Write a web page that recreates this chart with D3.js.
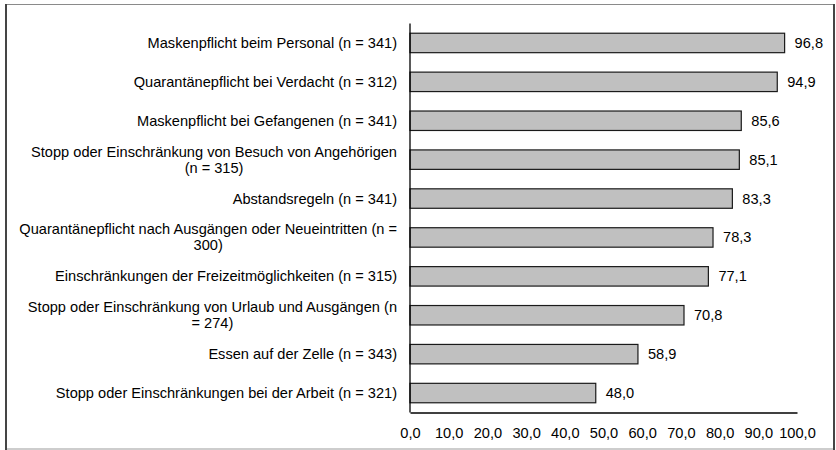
<!DOCTYPE html>
<html>
<head>
<meta charset="utf-8">
<script src="https://cdn.jsdelivr.net/npm/d3@7"></script>
<style>
  body { margin: 0; background: #fff; }
  svg text { font-family: "Liberation Sans", Arial, sans-serif; fill: #000; }
</style>
</head>
<body>
<div id="chart"></div>
<script>
// Data (line breaks as in the original labels)
const categories = [
  "Maskenpflicht beim Personal (n = 341)",
  "Quarantänepflicht bei Verdacht (n = 312)",
  "Maskenpflicht bei Gefangenen (n = 341)",
  "Stopp oder Einschränkung von Besuch von Angehörigen\n(n = 315)",
  "Abstandsregeln (n = 341)",
  "Quarantänepflicht nach Ausgängen oder Neueintritten (n =\n300)",
  "Einschränkungen der Freizeitmöglichkeiten (n = 315)",
  "Stopp oder Einschränkung von Urlaub und Ausgängen (n\n= 274)",
  "Essen auf der Zelle (n = 343)",
  "Stopp oder Einschränkungen bei der Arbeit (n = 321)"
];
const values = [96.8, 94.9, 85.6, 85.1, 83.3, 78.3, 77.1, 70.8, 58.9, 48.0];
const xTicks = [0, 10, 20, 30, 40, 50, 60, 70, 80, 90, 100];

const W = 836, H = 450;
const margin = {top: 23.5, right: 39, bottom: 37.5, left: 410};
const width = W - margin.left - margin.right,
      height = H - margin.top - margin.bottom;
const fs = 14.6;

const svg = d3.select("#chart")
    .append("svg")
    .attr("width", W)
    .attr("height", H);

// outer frame
svg.append("line").attr("x1", 5).attr("x2", 835).attr("y1", 4.5).attr("y2", 4.5)
    .attr("stroke", "#8a8a8a").attr("stroke-width", 1);
svg.append("line").attr("x1", 5).attr("x2", 835).attr("y1", 449).attr("y2", 449)
    .attr("stroke", "#bdbdbd").attr("stroke-width", 1.5);
svg.append("line").attr("x1", 6).attr("x2", 6).attr("y1", 4).attr("y2", 450)
    .attr("stroke", "#454545").attr("stroke-width", 2);
svg.append("line").attr("x1", 834).attr("x2", 834).attr("y1", 4).attr("y2", 450)
    .attr("stroke", "#454545").attr("stroke-width", 2);

const g = svg.append("g")
    .attr("transform", `translate(${margin.left},${margin.top})`);

const x = d3.scaleLinear().domain([0, 100]).range([0, width]);
const y = d3.scaleBand().domain(categories).range([0, height]).paddingInner(0.5).paddingOuter(0.25);

// bars
g.selectAll(".bar")
    .data(values)
    .enter()
    .append("rect")
    .attr("class", "bar")
    .attr("x", 0)
    .attr("y", (d, i) => y(categories[i]))
    .attr("width", d => x(d))
    .attr("height", y.bandwidth())
    .attr("fill", "#c0c0c0")
    .attr("stroke", "#1a1a1a")
    .attr("stroke-width", 1.2);

// value labels
const fmt = v => v.toFixed(1).replace(".", ",");
g.selectAll(".val")
    .data(values)
    .enter()
    .append("text")
    .attr("class", "val")
    .attr("x", d => x(d) + 10)
    .attr("y", (d, i) => y(categories[i]) + y.bandwidth() / 2 + 5)
    .attr("font-size", fs)
    .text(fmt);

// x axis
const xAxis = g.append("g")
    .attr("transform", `translate(0,${height})`)
    .call(d3.axisBottom(x).tickValues(xTicks).tickSize(0).tickPadding(15).tickFormat(fmt));
xAxis.select(".domain").attr("stroke", "#000").attr("stroke-width", 1.3);
xAxis.selectAll("text").attr("font-size", fs)
    .style("font-family", '"Liberation Sans", Arial, sans-serif');

// y axis line
g.append("line")
    .attr("x1", 0).attr("x2", 0).attr("y1", 0).attr("y2", height)
    .attr("stroke", "#000").attr("stroke-width", 1.3);

// category labels (block right aligned, lines centered within block)
const lineH = 16, labelRight = -13;
categories.forEach(label => {
    const t = g.append("text").attr("font-size", fs).attr("text-anchor", "middle");
    const lines = label.split("\n");
    const probe = t.append("tspan");
    let blockW = 0;
    lines.forEach(l => {
        probe.text(l);
        blockW = Math.max(blockW, probe.node().getComputedTextLength());
    });
    probe.remove();
    const cx = labelRight - blockW / 2;
    const cy = y(label) + y.bandwidth() / 2;
    const y0 = cy + 5 - (lines.length - 1) * lineH / 2;
    lines.forEach((l, i) => {
        t.append("tspan").attr("x", cx).attr("y", y0 + i * lineH).text(l);
    });
});
</script>
</body>
</html>
